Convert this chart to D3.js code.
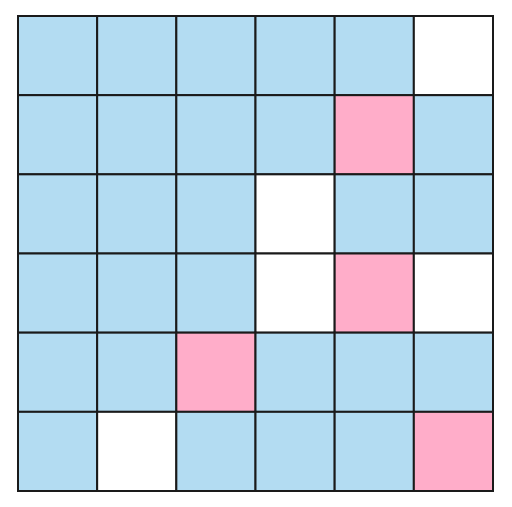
<!DOCTYPE html>
<html><head><meta charset="utf-8">
<script src="https://cdn.jsdelivr.net/npm/d3@7"></script>
<style>body{margin:0;background:#fff}svg{display:block}</style>
</head><body>
<svg id="c" width="512" height="507"></svg>
<script>
const rows = [0,1,2,3,4,5];
const cols = [0,1,2,3,4,5];
// 0 = blue, 1 = pink, 2 = white
const states = [
  [0,0,0,0,0,2],
  [0,0,0,0,1,0],
  [0,0,0,2,0,0],
  [0,0,0,2,1,2],
  [0,0,1,0,0,0],
  [0,2,0,0,0,1]
];
const stateColors = ["#b3dcf2", "#ffadc9", "#ffffff"];

const svg = d3.select("#c");
const x = d3.scaleBand().domain(cols).range([18, 493]);
const y = d3.scaleBand().domain(rows).range([16, 491]);
const color = d3.scaleOrdinal().domain([0,1,2]).range(stateColors);

const cells = [];
rows.forEach(r => cols.forEach(c => cells.push({r, c, v: states[r][c]})));

svg.selectAll("rect.cell").data(cells).enter().append("rect")
  .attr("class","cell")
  .attr("x", d => x(d.c)).attr("y", d => y(d.r))
  .attr("width", x.bandwidth()).attr("height", y.bandwidth())
  .attr("fill", d => color(d.v))
  .attr("stroke", "#1a1a1a").attr("stroke-width", 2);
</script>
</body></html>
